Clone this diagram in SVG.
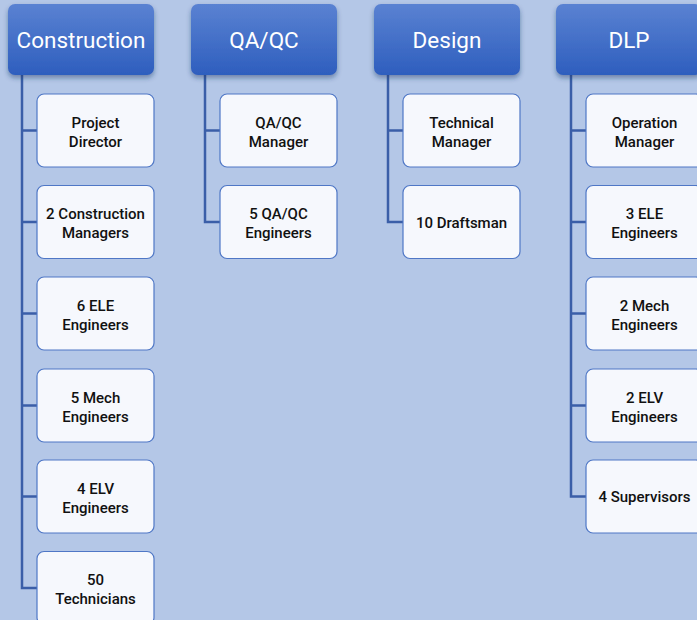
<svg xmlns="http://www.w3.org/2000/svg" width="697" height="620" viewBox="0 0 697 620">
<defs>
<linearGradient id="hg" x1="0" y1="0" x2="0" y2="1">
<stop offset="0" stop-color="#5a82d2"/>
<stop offset="1" stop-color="#2e5ebe"/>
</linearGradient>
<filter id="sh" x="-10%" y="-10%" width="120%" height="140%">
<feDropShadow dx="0" dy="3" stdDeviation="2.5" flood-color="#1e3260" flood-opacity="0.45"/>
</filter>
<style>
.h rect{fill:url(#hg);filter:url(#sh)}
.h text{fill:#ffffff;font-family:Roboto,"DejaVu Sans",sans-serif;font-size:22.5px;text-anchor:middle}
.c rect{fill:#f6f8fd;stroke:#4f77c6;stroke-width:1.2}
.c text{fill:#111111;font-family:Roboto,"DejaVu Sans",sans-serif;font-size:15px;font-weight:500;text-anchor:middle}
.ln{fill:none;stroke:#3a5ea8;stroke-width:2.5}
</style>
</defs>
<rect width="697" height="620" fill="#b4c7e7"/>
<g id="connectors">
<path class="ln" d="M22 75 V588 H37 M22 130.5 H37 M22 222 H37 M22 313.5 H37 M22 405.5 H37 M22 496.5 H37"/>
<path class="ln" d="M205 75 V222 H220 M205 130.5 H220"/>
<path class="ln" d="M388 75 V222 H403 M388 130.5 H403"/>
<path class="ln" d="M571 75 V496.5 H586 M571 130.5 H586 M571 222 H586 M571 313.5 H586 M571 405.5 H586"/>
</g>
<g id="h-construction" class="h"><rect x="8" y="4" width="146" height="71" rx="7"/><text x="81" y="48">Construction</text></g>
<g id="h-qaqc" class="h"><rect x="191" y="4" width="146" height="71" rx="7"/><text x="264" y="48">QA/QC</text></g>
<g id="h-design" class="h"><rect x="374" y="4" width="146" height="71" rx="7"/><text x="447" y="48">Design</text></g>
<g id="h-dlp" class="h"><rect x="556" y="4" width="146" height="71" rx="7"/><text x="629" y="48">DLP</text></g>

<g id="c1" class="c"><rect x="37" y="94" width="117" height="73" rx="7"/><text x="95.5" y="127.5">Project</text><text x="95.5" y="146.5">Director</text></g>
<g id="c2" class="c"><rect x="37" y="185.5" width="117" height="73" rx="7"/><text x="95.5" y="219">2 Construction</text><text x="95.5" y="238">Managers</text></g>
<g id="c3" class="c"><rect x="37" y="277" width="117" height="73" rx="7"/><text x="95.5" y="310.5">6 ELE</text><text x="95.5" y="329.5">Engineers</text></g>
<g id="c4" class="c"><rect x="37" y="369" width="117" height="73" rx="7"/><text x="95.5" y="402.5">5 Mech</text><text x="95.5" y="421.5">Engineers</text></g>
<g id="c5" class="c"><rect x="37" y="460" width="117" height="73" rx="7"/><text x="95.5" y="493.5">4 ELV</text><text x="95.5" y="512.5">Engineers</text></g>
<g id="c6" class="c"><rect x="37" y="551.5" width="117" height="73" rx="7"/><text x="95.5" y="585">50</text><text x="95.5" y="604">Technicians</text></g>

<g id="q1" class="c"><rect x="220" y="94" width="117" height="73" rx="7"/><text x="278.5" y="127.5">QA/QC</text><text x="278.5" y="146.5">Manager</text></g>
<g id="q2" class="c"><rect x="220" y="185.5" width="117" height="73" rx="7"/><text x="278.5" y="219">5 QA/QC</text><text x="278.5" y="238">Engineers</text></g>

<g id="d1" class="c"><rect x="403" y="94" width="117" height="73" rx="7"/><text x="461.5" y="127.5">Technical</text><text x="461.5" y="146.5">Manager</text></g>
<g id="d2" class="c"><rect x="403" y="185.5" width="117" height="73" rx="7"/><text x="461.5" y="227.5">10 Draftsman</text></g>

<g id="p1" class="c"><rect x="586" y="94" width="117" height="73" rx="7"/><text x="644.5" y="127.5">Operation</text><text x="644.5" y="146.5">Manager</text></g>
<g id="p2" class="c"><rect x="586" y="185.5" width="117" height="73" rx="7"/><text x="644.5" y="219">3 ELE</text><text x="644.5" y="238">Engineers</text></g>
<g id="p3" class="c"><rect x="586" y="277" width="117" height="73" rx="7"/><text x="644.5" y="310.5">2 Mech</text><text x="644.5" y="329.5">Engineers</text></g>
<g id="p4" class="c"><rect x="586" y="369" width="117" height="73" rx="7"/><text x="644.5" y="402.5">2 ELV</text><text x="644.5" y="421.5">Engineers</text></g>
<g id="p5" class="c"><rect x="586" y="460" width="117" height="73" rx="7"/><text x="644.5" y="502">4 Supervisors</text></g>
</svg>
